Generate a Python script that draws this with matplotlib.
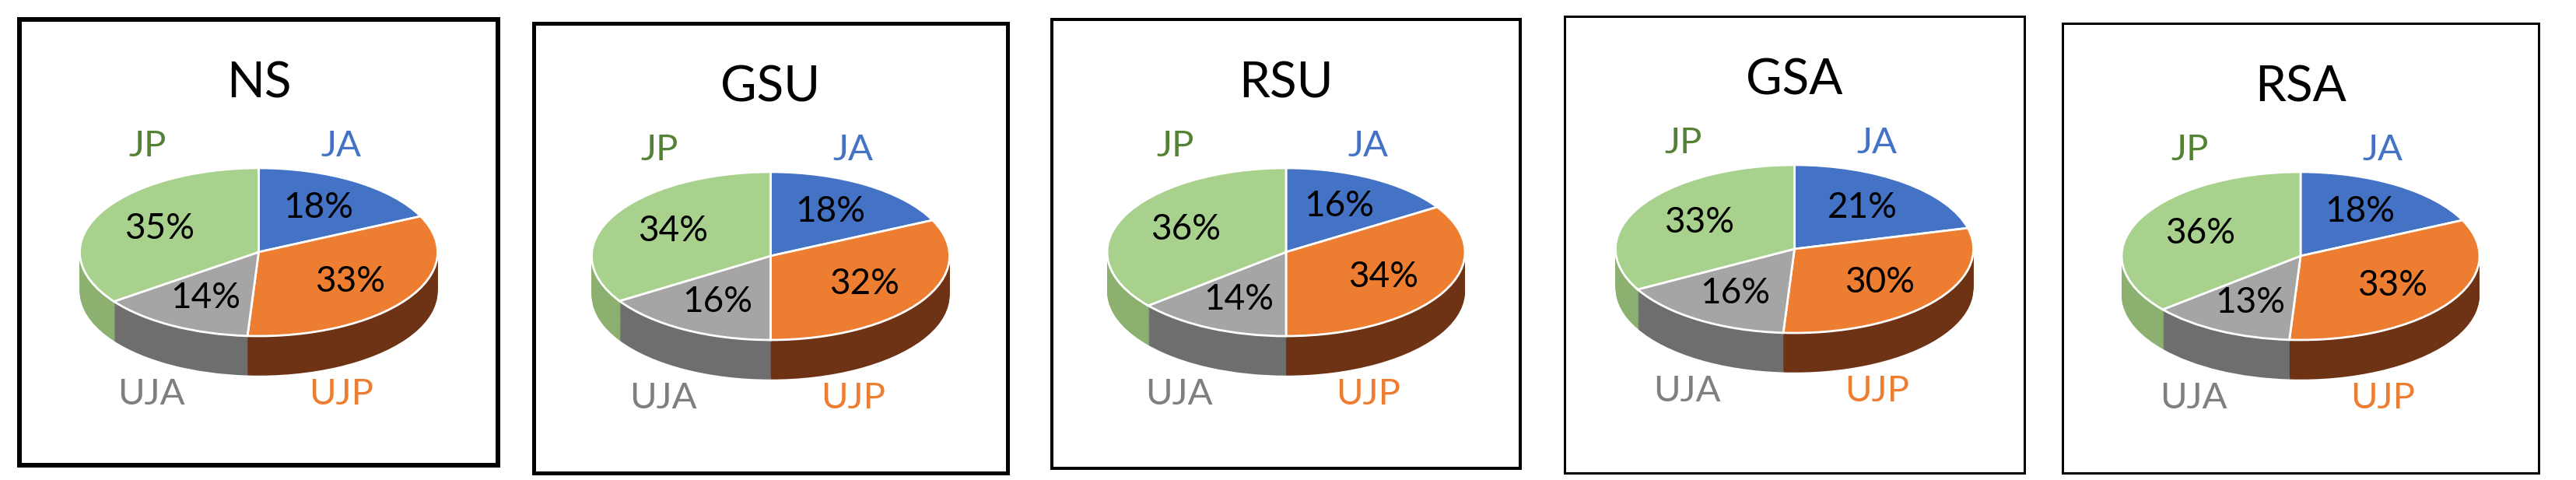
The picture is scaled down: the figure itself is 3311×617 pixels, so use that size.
import matplotlib.pyplot as plt
import numpy as np

titles = ["NS", "GSU", "RSU", "GSA", "RSA"]
cats = ["JA", "UJP", "UJA", "JP"]
shares = [
    [18, 33, 14, 35],
    [18, 32, 16, 34],
    [16, 34, 14, 36],
    [21, 30, 16, 33],
    [18, 33, 13, 36],
]
top_cols = ["#4472C4", "#ED7D31", "#A5A5A5", "#A9D18E"]
side_cols = ["#2F5597", "#6E3315", "#6E6E6E", "#8CB070"]
lab_cols = ["#4472C4", "#ED7D31", "#7F7F7F", "#548235"]
lab_pos = [(0.46, 1.26), (0.46, -1.69), (-0.6, -1.69), (-0.62, 1.26)]

# panel boxes in pixels (left, top, right, bottom) and border width
boxes = [(25, 25, 640, 598, 6), (686, 30, 1295, 608, 5), (1352, 25, 1954, 602, 4),
         (2011, 21, 2602, 608, 3), (2651, 30, 3263, 608, 3)]
W, H = 3312, 617

fig = plt.figure(figsize=(W / 100, H / 100), dpi=100)
plt.rcParams['font.family'] = ['Lato', 'DejaVu Sans']

for t, vals, (l, tp, r, b, lw) in zip(titles, shares, boxes):
    ax = fig.add_axes([l / W, 1 - b / H, (r - l) / W, (b - tp) / H])
    w, h = r - l, b - tp
    sx, sy = 230.0, 108.0
    top = 299 / sy
    depth = 0.47
    for k in np.linspace(depth, 0.02, 30):
        ax.pie(vals, colors=side_cols, startangle=90, counterclock=False,
               center=(0, -k), radius=1, wedgeprops=dict(linewidth=0), frame=True)
    ax.pie(vals, colors=top_cols, startangle=90, counterclock=False, center=(0, 0),
           radius=1, autopct='%d%%', pctdistance=0.62,
           textprops=dict(fontsize=33, color='black'),
           wedgeprops=dict(edgecolor='white', linewidth=2), frame=True)
    ax.set_xlim(-w / 2 / sx, w / 2 / sx)
    ax.set_ylim(top - h / sy, top)
    ax.set_aspect('auto')
    ax.set_xticks([])
    ax.set_yticks([])
    for s in ax.spines.values():
        s.set_linewidth(lw / 1.39)
        s.set_color('black')
    ax.text(0, 2.0, t, ha='center', va='center', fontsize=46)
    for c, col, (x, y) in zip(cats, lab_cols, lab_pos):
        ax.text(x, y, c, ha='center', va='center', fontsize=34, color=col)

fig.savefig("out.png", dpi=100)
